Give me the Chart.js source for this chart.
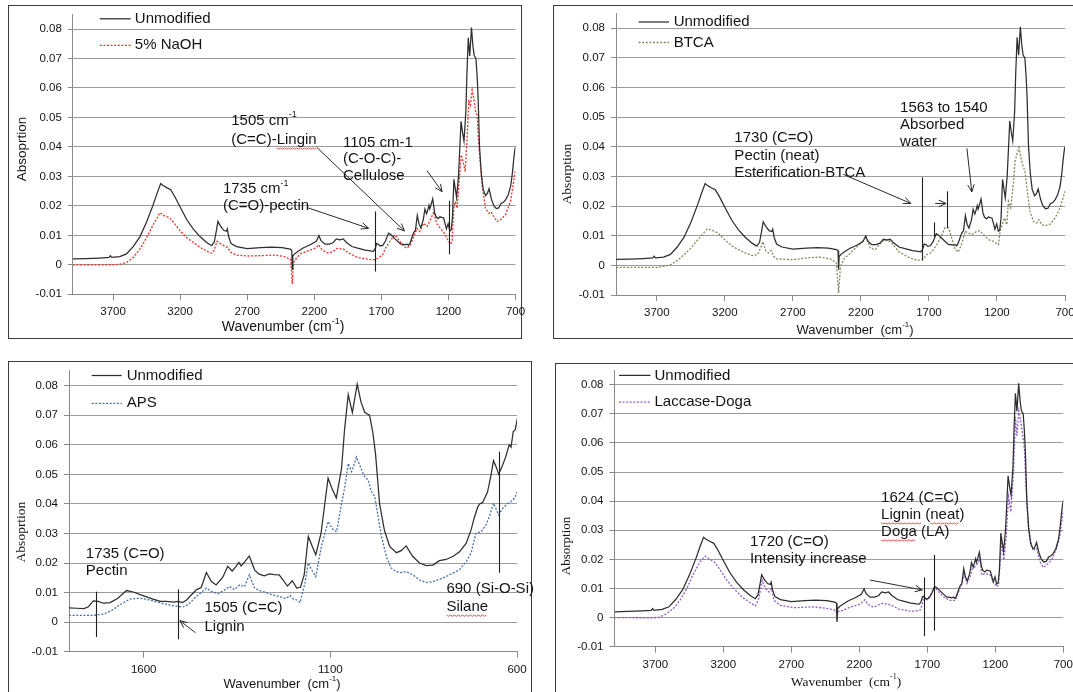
<!DOCTYPE html>
<html>
<head>
<meta charset="utf-8">
<script src="https://cdn.jsdelivr.net/npm/chart.js@4.4.1/dist/chart.umd.min.js"></script>
<style>
  html, body { margin: 0; padding: 0; background: #fff; width: 1073px; height: 692px; overflow: hidden; }
  .frame { position: absolute; border: 1px solid #3c3c3c; box-sizing: border-box; }
  canvas { position: absolute; }
</style>
</head>
<body>
<div class="frame" style="left:8px;top:5px;width:514px;height:334px"></div>
<div class="frame" style="left:553px;top:5px;width:540px;height:334px"></div>
<div class="frame" style="left:8px;top:361px;width:524px;height:360px"></div>
<div class="frame" style="left:555px;top:363px;width:540px;height:360px"></div>
<canvas id="naoh" width="540" height="350" style="left:0;top:0"></canvas>
<canvas id="btca" width="545" height="350" style="left:540px;top:0"></canvas>
<canvas id="aps" width="540" height="342" style="left:0;top:350px"></canvas>
<canvas id="doga" width="545" height="342" style="left:540px;top:350px"></canvas>
<script>
// ---------- FTIR spectra: wavenumber (cm-1) and absorbance ----------
const unmodWn = [4000,3900,3800,3730,3720,3710,3650,3600,3550,3500,3450,3400,3370,3345,3330,3300,3270,3240,3200,3150,3100,3050,3000,2965,2945,2930,2918,2900,2875,2855,2848,2838,2820,2780,2700,2600,2520,2440,2380,2368,2364,2360,2345,2320,2280,2230,2185,2165,2150,2120,2090,2060,2035,2010,1985,1960,1920,1870,1820,1780,1760,1748,1735,1722,1708,1690,1670,1646,1628,1600,1575,1555,1540,1520,1508,1496,1485,1470,1458,1446,1432,1419,1406,1388,1375,1363,1354,1345,1339,1330,1317,1303,1292,1277,1263,1250,1237,1225,1215,1202,1190,1180,1170,1159,1148,1139,1125,1106,1095,1084,1070,1062,1052,1041,1028,1018,1008,995,986,979,968,955,941,923,910,897,879,861,843,825,808,790,772,754,736,723,714,705,700,692,679,670,663,656,649,639,630,621,616,610,605,598];
const unmodAbs = [0.0020,0.0021,0.0023,0.0025,0.0031,0.0025,0.0028,0.0037,0.0062,0.0095,0.0145,0.0205,0.0245,0.0276,0.0270,0.0262,0.0255,0.0232,0.0196,0.0153,0.0120,0.0095,0.0075,0.0065,0.0078,0.0115,0.0147,0.0132,0.0117,0.0114,0.0122,0.0095,0.0072,0.0062,0.0055,0.0058,0.0060,0.0058,0.0053,0.0050,-0.0015,0.0030,0.0038,0.0046,0.0058,0.0068,0.0080,0.0099,0.0082,0.0070,0.0070,0.0075,0.0088,0.0085,0.0088,0.0076,0.0062,0.0056,0.0050,0.0047,0.0046,0.0052,0.0072,0.0070,0.0064,0.0066,0.0080,0.0107,0.0102,0.0089,0.0078,0.0070,0.0070,0.0068,0.0070,0.0066,0.0075,0.0095,0.0110,0.0117,0.0168,0.0138,0.0126,0.0152,0.0189,0.0173,0.0186,0.0202,0.0190,0.0203,0.0224,0.0177,0.0163,0.0157,0.0163,0.0161,0.0160,0.0140,0.0122,0.0140,0.0115,0.0118,0.0160,0.0290,0.0255,0.0228,0.0300,0.0487,0.0450,0.0420,0.0520,0.0650,0.0770,0.0709,0.0805,0.0745,0.0710,0.0700,0.0640,0.0570,0.0400,0.0310,0.0256,0.0235,0.0242,0.0258,0.0222,0.0200,0.0191,0.0193,0.0208,0.0212,0.0222,0.0238,0.0267,0.0312,0.0355,0.0390,0.0400,0.0405,0.0440,0.0495,0.0546,0.0526,0.0500,0.0530,0.0560,0.0600,0.0592,0.0645,0.0650,0.0695];

const naohWn = [4000,3700,3650,3600,3550,3500,3450,3400,3350,3320,3280,3250,3200,3150,3100,3050,3000,2965,2945,2925,2900,2870,2850,2820,2780,2700,2600,2500,2420,2375,2364,2355,2330,2300,2230,2185,2168,2143,2105,2068,2031,1981,1943,1882,1807,1752,1720,1690,1670,1633,1600,1571,1533,1508,1484,1459,1434,1414,1384,1359,1329,1309,1289,1260,1230,1205,1185,1173,1160,1148,1135,1120,1105,1090,1075,1060,1048,1036,1023,1011,998,986,974,949,924,899,882,862,837,812,775,737,712,700];
const naohAbs = [0.0000,0.0000,0.0002,0.0008,0.0025,0.0053,0.0092,0.0137,0.0177,0.0167,0.0160,0.0145,0.0115,0.0092,0.0075,0.0059,0.0046,0.0039,0.0050,0.0080,0.0072,0.0064,0.0060,0.0042,0.0033,0.0030,0.0031,0.0033,0.0028,0.0018,-0.0065,0.0008,0.0025,0.0038,0.0050,0.0058,0.0068,0.0051,0.0041,0.0043,0.0056,0.0053,0.0040,0.0026,0.0019,0.0017,0.0023,0.0035,0.0056,0.0082,0.0102,0.0085,0.0062,0.0056,0.0068,0.0096,0.0124,0.0113,0.0141,0.0130,0.0158,0.0180,0.0141,0.0124,0.0107,0.0085,0.0070,0.0079,0.0192,0.0215,0.0192,0.0282,0.0373,0.0350,0.0316,0.0440,0.0554,0.0542,0.0593,0.0565,0.0520,0.0508,0.0407,0.0271,0.0192,0.0175,0.0180,0.0164,0.0147,0.0153,0.0170,0.0215,0.0288,0.0322];

const btcaWn = [4000,3700,3650,3600,3550,3500,3450,3400,3350,3330,3300,3250,3200,3150,3100,3050,3000,2960,2940,2920,2900,2880,2860,2840,2820,2700,2600,2500,2420,2380,2364,2350,2320,2280,2240,2190,2163,2131,2095,2046,2009,1972,1923,1850,1789,1747,1715,1679,1642,1605,1581,1556,1532,1507,1483,1458,1434,1410,1385,1348,1324,1300,1263,1226,1189,1177,1165,1145,1128,1116,1099,1079,1067,1055,1038,1018,994,974,957,932,908,891,871,847,810,773,737,700];
const btcaAbs = [-0.0007,-0.0007,-0.0003,0.0002,0.0016,0.0036,0.0058,0.0086,0.0112,0.0123,0.0120,0.0109,0.0086,0.0066,0.0053,0.0042,0.0033,0.0036,0.0055,0.0080,0.0050,0.0042,0.0050,0.0030,0.0022,0.0019,0.0025,0.0028,0.0021,0.0008,-0.0093,-0.0003,0.0025,0.0040,0.0058,0.0080,0.0098,0.0058,0.0053,0.0081,0.0087,0.0075,0.0047,0.0027,0.0017,0.0019,0.0036,0.0045,0.0070,0.0103,0.0128,0.0126,0.0092,0.0053,0.0045,0.0075,0.0115,0.0109,0.0104,0.0115,0.0117,0.0104,0.0087,0.0081,0.0070,0.0115,0.0132,0.0160,0.0137,0.0216,0.0194,0.0278,0.0351,0.0373,0.0398,0.0350,0.0317,0.0238,0.0182,0.0148,0.0143,0.0154,0.0137,0.0134,0.0139,0.0160,0.0193,0.0250];

const apsWn = [1800,1735,1708,1686,1664,1637,1610,1584,1557,1521,1496,1481,1459,1432,1419,1401,1383,1370,1357,1343,1330,1317,1303,1290,1272,1254,1237,1219,1208,1199,1190,1181,1168,1159,1150,1139,1124,1106,1092,1083,1070,1061,1052,1043,1030,1016,1008,999,990,981,972,963,950,937,923,910,897,879,861,843,825,808,790,772,754,736,723,710,696,683,674,663,649,638,625,616,607,598];
const apsAbs = [0.0023,0.0023,0.0027,0.0039,0.0059,0.0078,0.0081,0.0075,0.0066,0.0055,0.0051,0.0059,0.0087,0.0115,0.0104,0.0096,0.0109,0.0121,0.0110,0.0126,0.0120,0.0160,0.0115,0.0107,0.0100,0.0092,0.0087,0.0080,0.0090,0.0078,0.0075,0.0066,0.0132,0.0200,0.0177,0.0154,0.0256,0.0340,0.0312,0.0306,0.0402,0.0459,0.0537,0.0509,0.0558,0.0515,0.0492,0.0481,0.0442,0.0425,0.0357,0.0290,0.0222,0.0183,0.0171,0.0168,0.0171,0.0160,0.0143,0.0134,0.0137,0.0145,0.0154,0.0166,0.0177,0.0205,0.0233,0.0301,0.0306,0.0329,0.0357,0.0402,0.0363,0.0385,0.0402,0.0408,0.0419,0.0445];

const dogaWn = [4000,3715,3666,3616,3567,3518,3468,3419,3370,3333,3296,3259,3222,3173,3124,3062,3000,2964,2939,2914,2890,2865,2845,2828,2779,2680,2533,2434,2370,2364,2358,2323,2261,2200,2159,2134,2093,2032,1970,1909,1812,1751,1738,1725,1702,1670,1645,1604,1567,1531,1494,1470,1445,1428,1408,1384,1367,1347,1330,1313,1299,1274,1237,1213,1189,1176,1154,1137,1120,1103,1086,1066,1052,1042,1027,1015,1000,986,974,957,932,908,895,871,847,822,786,749,724,700];
const dogaAbs = [0.0000,-0.0001,0.0002,0.0014,0.0031,0.0060,0.0100,0.0151,0.0192,0.0211,0.0200,0.0188,0.0163,0.0128,0.0100,0.0071,0.0050,0.0040,0.0065,0.0128,0.0100,0.0088,0.0100,0.0060,0.0042,0.0034,0.0037,0.0031,0.0025,-0.0010,0.0020,0.0025,0.0037,0.0045,0.0061,0.0044,0.0036,0.0049,0.0044,0.0029,0.0021,0.0026,0.0045,0.0072,0.0061,0.0083,0.0104,0.0082,0.0067,0.0059,0.0059,0.0089,0.0118,0.0150,0.0118,0.0141,0.0169,0.0175,0.0186,0.0203,0.0146,0.0152,0.0146,0.0123,0.0106,0.0112,0.0267,0.0198,0.0278,0.0415,0.0363,0.0500,0.0690,0.0625,0.0710,0.0680,0.0633,0.0580,0.0450,0.0310,0.0245,0.0233,0.0238,0.0192,0.0172,0.0181,0.0198,0.0238,0.0284,0.0370];

// axis ticks
const fullRangeTicks = [700, 1200, 1700, 2200, 2700, 3200, 3700];
const fingerprintTicks = [600, 1100, 1600];
const absTicks = [-0.01, 0, 0.01, 0.02, 0.03, 0.04, 0.05, 0.06, 0.07, 0.08];

// ---------- shared styling ----------
const SANS = '"Liberation Sans", Arial, sans-serif';
const SERIF = '"Liberation Serif", "Times New Roman", serif';
const INK = '#141414';
const GRID = '#9c9c9c';
const AXIS = '#8a8a8a';
const NOTE_FONT = 15;

const pts = (wn, ab) => wn.map((w, i) => ({ x: w, y: ab[i] }));

function series(label, wn, ab, color, dotted) {
  return {
    label, data: pts(wn, ab), borderColor: color,
    borderWidth: dotted ? 1.3 : 1.25, borderDash: dotted ? [2, 1.6] : [],
    pointRadius: 0, tension: 0, fill: false
  };
}

// draws a line of text made of segments (plain, superscript, spell-check squiggle)
function drawSegments(ctx, segs, x, y, size, family) {
  let cx = x;
  segs.forEach(s => {
    const seg = typeof s === 'string' ? { t: s } : s;
    if (seg.sup) {
      ctx.font = `${Math.round(size * 0.62)}px ${family}`;
      ctx.fillText(seg.t, cx, y - size * 0.38);
    } else {
      ctx.font = `${size}px ${family}`;
      ctx.fillText(seg.t, cx, y);
    }
    const w = ctx.measureText(seg.t).width;
    if (seg.wavy) {
      ctx.save();
      ctx.strokeStyle = '#e0463c'; ctx.lineWidth = 0.9; ctx.setLineDash([]);
      ctx.beginPath();
      const by = y + size * 0.55;
      for (let k = 0; k <= w; k += 2) {
        const yy = by + ((k / 2) % 2 === 0 ? 0 : 1.2);
        if (k === 0) ctx.moveTo(cx + k, yy); else ctx.lineTo(cx + k, yy);
      }
      ctx.stroke();
      ctx.restore();
    }
    cx += w;
  });
}

function arrowHead(ctx, x0, y0, x1, y1) {
  const a = Math.atan2(y1 - y0, x1 - x0), L = 8, s = 0.42;
  ctx.beginPath();
  ctx.moveTo(x1 - L * Math.cos(a - s), y1 - L * Math.sin(a - s));
  ctx.lineTo(x1, y1);
  ctx.lineTo(x1 - L * Math.cos(a + s), y1 - L * Math.sin(a + s));
  ctx.stroke();
}

// per-panel decorations: inset legend, axis titles, band notes, markers and arrows
function panelDecor(spec) {
  return {
    id: 'panelDecor',
    afterDraw(chart) {
      const { ctx, chartArea: a, scales: { x, y } } = chart;
      const X = w => x.getPixelForValue(w), Y = v => y.getPixelForValue(v);
      ctx.save();
      ctx.fillStyle = INK;
      ctx.textBaseline = 'middle';
      ctx.textAlign = 'left';

      // inset legend
      chart.data.datasets.forEach((ds, i) => {
        const ly = a.top + spec.legend.rows[i];
        ctx.beginPath();
        ctx.setLineDash(ds.borderDash);
        ctx.strokeStyle = ds.borderColor; ctx.lineWidth = ds.borderWidth;
        ctx.moveTo(a.left + spec.legend.x0, ly); ctx.lineTo(a.left + spec.legend.x1, ly);
        ctx.stroke();
        ctx.setLineDash([]);
        ctx.font = `15px ${SANS}`;
        ctx.fillText(ds.label, a.left + spec.legend.tx, ly);
      });

      // axis titles
      const xt = spec.xTitle;
      const xSegs = [xt.text, { t: '-1', sup: true }, ')'];
      let tw = 0;
      xSegs.forEach(s => {
        const seg = typeof s === 'string' ? { t: s } : s;
        ctx.font = seg.sup ? `${Math.round(xt.size * 0.62)}px ${xt.family}` : `${xt.size}px ${xt.family}`;
        tw += ctx.measureText(seg.t).width;
      });
      drawSegments(ctx, xSegs, xt.cx - tw / 2, xt.cy, xt.size, xt.family);

      const yt = spec.yTitle;
      ctx.save();
      ctx.translate(yt.cx, yt.cy);
      ctx.rotate(-Math.PI / 2);
      ctx.textAlign = 'center';
      ctx.font = `${yt.size}px ${yt.family}`;
      ctx.fillText(yt.text, 0, 0);
      ctx.restore();

      // notes
      spec.notes.forEach(n => {
        n.lines.forEach((segs, k) => {
          drawSegments(ctx, segs, X(n.w), Y(n.v) + k * n.lh, NOTE_FONT, SANS);
        });
      });

      // band markers
      ctx.strokeStyle = '#1e1e1e'; ctx.lineWidth = 1.1; ctx.setLineDash([]);
      spec.marks.forEach(m => {
        ctx.beginPath();
        ctx.moveTo(Math.round(X(m[0])) + 0.5, Y(m[1]));
        ctx.lineTo(Math.round(X(m[0])) + 0.5, Y(m[2]));
        ctx.stroke();
      });

      // arrows
      ctx.strokeStyle = '#2a2a2a'; ctx.lineWidth = 1;
      spec.arrows.forEach(r => {
        const x0 = X(r[0]), y0 = Y(r[1]), x1 = X(r[2]), y1 = Y(r[3]);
        ctx.beginPath(); ctx.moveTo(x0, y0); ctx.lineTo(x1, y1); ctx.stroke();
        arrowHead(ctx, x0, y0, x1, y1);
      });
      ctx.restore();
    }
  };
}

function buildPanel(id, cfg) {
  const tickFont = { family: SANS, size: 11.5 };
  new Chart(document.getElementById(id), {
    type: 'line',
    data: { datasets: cfg.datasets },
    options: {
      responsive: false, animation: false, devicePixelRatio: 1,
      events: [],
      layout: { padding: cfg.padding },
      plugins: { legend: { display: false }, tooltip: { enabled: false }, title: { display: false } },
      scales: {
        x: {
          type: 'linear', reverse: true, min: cfg.xMin, max: cfg.xMax,
          afterBuildTicks: s => { s.ticks = cfg.xTicks.map(v => ({ value: v })); },
          afterFit: s => { s.height = 30; },
          grid: { drawOnChartArea: false, drawTicks: true, tickLength: 6, tickColor: AXIS, lineWidth: 1 },
          border: { display: true, color: AXIS, width: 1 },
          ticks: { font: tickFont, color: INK, padding: 5, maxRotation: 0, autoSkip: false, callback: v => String(v) }
        },
        y: {
          type: 'linear', min: -0.01, max: 0.085,
          afterBuildTicks: s => { s.ticks = absTicks.map(v => ({ value: v })); },
          afterFit: s => { s.width = cfg.yWidth; },
          grid: { color: GRID, lineWidth: 1, drawTicks: true, tickLength: 5, tickColor: AXIS },
          border: { display: true, color: AXIS, width: 1 },
          ticks: { font: tickFont, color: INK, padding: 6, callback: v => (Math.abs(v) < 1e-9 ? '0' : v.toFixed(2)) }
        }
      }
    },
    plugins: [panelDecor(cfg.decor)]
  });
}

// ---------- panel: 5% NaOH ----------
buildPanel('naoh', {
  datasets: [
    series('Unmodified', unmodWn, unmodAbs, '#2e2e2e', false),
    series('5% NaOH', naohWn, naohAbs, '#f0302a', true)
  ],
  xMin: 700, xMax: 4000, xTicks: fullRangeTicks,
  yWidth: 72.8, padding: { left: 0, top: 14.3, right: 24.5, bottom: 25.7 },
  decor: {
    legend: { x0: 27, x1: 58, tx: 62, rows: [4.5, 31] },
    xTitle: { text: 'Wavenumber (cm', size: 14, family: SANS, cx: 283, cy: 327 },
    yTitle: { text: 'Absoprtion', size: 13.5, family: SANS, cx: 22, cy: 149 },
    notes: [
      { w: 2819, v: 0.0489, lh: 19, lines: [['1505 cm', { t: '-1', sup: true }], ['(C=C)-', { t: 'Lingin', wavy: true }]] },
      { w: 1986, v: 0.0415, lh: 16.5, lines: [['1105 cm-1'], ['(C-O-C)-'], ['Cellulose']] },
      { w: 2881, v: 0.0258, lh: 17, lines: [['1735 cm', { t: '-1', sup: true }], ['(C=O)-pectin']] }
    ],
    marks: [[1750, 0.0181, -0.0023], [1198, 0.0217, 0.0036]],
    arrows: [[2245, 0.0193, 1795, 0.0124], [2180, 0.0398, 1528, 0.0115], [1359, 0.0319, 1247, 0.0248]]
  }
});

// ---------- panel: BTCA ----------
buildPanel('btca', {
  datasets: [
    series('Unmodified', unmodWn, unmodAbs, '#2e2e2e', false),
    series('BTCA', btcaWn, btcaAbs, '#7f8a5c', true)
  ],
  xMin: 700, xMax: 4000, xTicks: fullRangeTicks,
  yWidth: 76, padding: { left: 0, top: 13.5, right: 20, bottom: 25 },
  decor: {
    legend: { x0: 22.6, x1: 53, tx: 57.7, rows: [8.5, 29] },
    xTitle: { text: 'Wavenumber  (cm', size: 13, family: SANS, cx: 315, cy: 330 },
    yTitle: { text: 'Absorption', size: 13.5, family: SERIF, cx: 27, cy: 174 },
    notes: [
      { w: 3130, v: 0.0429, lh: 17.3, lines: [['1730 (C=O)'], ['Pectin (neat)'], ['Esterification-BTCA']] },
      { w: 1912, v: 0.0533, lh: 17.2, lines: [['1563 to 1540'], ['Absorbed'], ['water']] }
    ],
    marks: [[1748, 0.0297, 0.0017], [1660, 0.0145, 0.0096], [1568, 0.025, 0.0126]],
    arrows: [[2329, 0.0307, 1833, 0.0209], [1654, 0.0209, 1574, 0.0209], [1421, 0.0395, 1385, 0.0248]]
  }
});

// ---------- panel: APS (fingerprint region) ----------
buildPanel('aps', {
  datasets: [
    series('Unmodified', unmodWn, unmodAbs, '#2e2e2e', false),
    series('APS', apsWn, apsAbs, '#4a6ea8', true)
  ],
  xMin: 600, xMax: 1800, xTicks: fingerprintTicks,
  yWidth: 69, padding: { left: 0, top: 20.9, right: 23, bottom: 10.3 },
  decor: {
    legend: { x0: 22.7, x1: 52.7, tx: 57.7, rows: [4.6, 32.4] },
    xTitle: { text: 'Wavenumber  (cm', size: 13, family: SANS, cx: 282, cy: 334 },
    yTitle: { text: 'Absoprtion', size: 13.5, family: SERIF, cx: 21, cy: 182 },
    notes: [
      { w: 1755, v: 0.023, lh: 17, lines: [['1735 (C=O)'], ['Pectin']] },
      { w: 1437, v: 0.0048, lh: 18.7, lines: [['1505 (C=C)'], ['Lignin']] },
      { w: 789, v: 0.0114, lh: 18.4, lines: [['690 (Si-O-Si)'], [{ t: 'Silane', wavy: true }]] }
    ],
    marks: [[1728, 0.0103, -0.005], [1507, 0.0111, -0.0058], [649, 0.0577, 0.0167]],
    arrows: [[1461, -0.0036, 1503, 0.0005]]
  }
});

// ---------- panel: Laccase-Doga ----------
buildPanel('doga', {
  datasets: [
    series('Unmodified', unmodWn, unmodAbs, '#2e2e2e', false),
    series('Laccase-Doga', dogaWn, dogaAbs, '#8c5cc8', true)
  ],
  xMin: 700, xMax: 4000, xTicks: fullRangeTicks,
  yWidth: 74.5, padding: { left: 0, top: 20.1, right: 21.7, bottom: 15.3 },
  decor: {
    legend: { x0: 4.5, x1: 36, tx: 40, rows: [5.3, 32] },
    xTitle: { text: 'Wavenumber  (cm', size: 13.5, family: SERIF, cx: 306, cy: 332 },
    yTitle: { text: 'Absorption', size: 13, family: SERIF, cx: 27, cy: 196 },
    notes: [
      { w: 3004, v: 0.0259, lh: 17, lines: [['1720 (C=O)'], ['Intensity increase']] },
      { w: 2040, v: 0.0412, lh: 17, lines: [['1624 (C=C)'], [{ t: 'Lignin', wavy: true }, ' (', { t: 'neat', wavy: true }, ')'], [{ t: 'Doga', wavy: true }, ' (LA)']] }
    ],
    marks: [[1724, 0.0138, -0.0064], [1648, 0.0215, -0.0045]],
    arrows: [[2121, 0.0129, 1737, 0.0095]]
  }
});
</script>
</body>
</html>
